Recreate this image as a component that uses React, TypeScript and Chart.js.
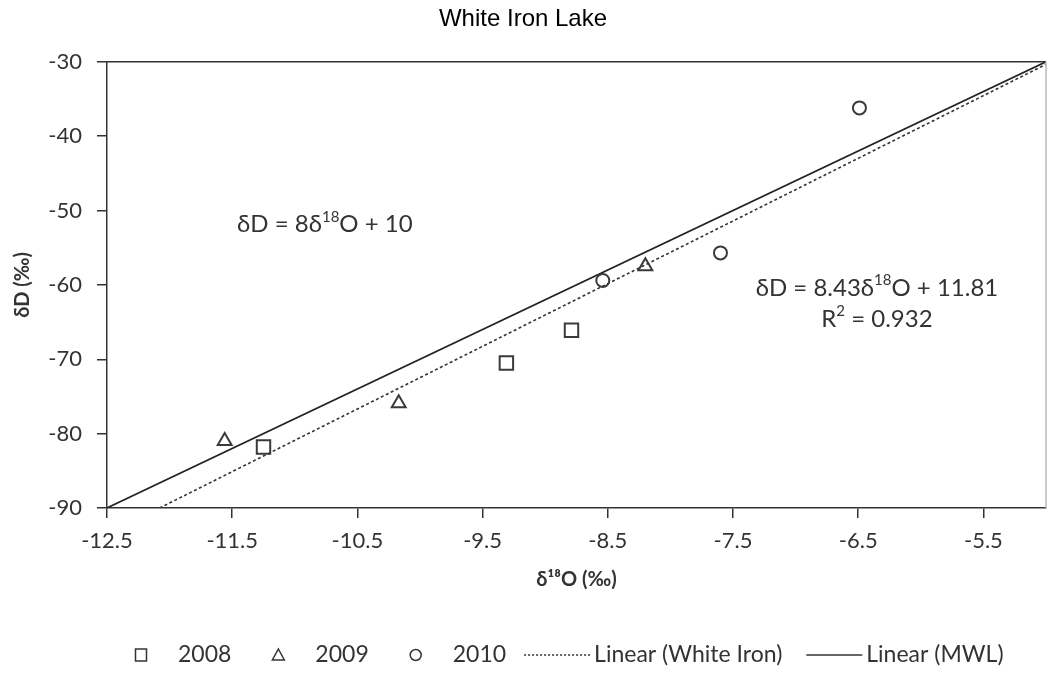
import React, { useEffect, useRef } from 'react';
import { Chart, registerables } from 'chart.js';

Chart.register(...registerables);

// ---- data ----
const chartTitle = 'White Iron Lake';
const xTickValues = [-12.5, -11.5, -10.5, -9.5, -8.5, -7.5, -6.5, -5.5];
const xMin = -12.5;
const xMax = -5;
const yMin = -90;
const yMax = -30;
const yStep = 10;

const x2008 = [-11.25, -9.31, -8.79];
const y2008 = [-81.8, -70.5, -66.1];
const x2009 = [-11.56, -10.17, -8.2];
const y2009 = [-81.0, -75.9, -57.5];
const x2010 = [-8.54, -7.6, -6.49];
const y2010 = [-59.4, -55.7, -36.2];

const mwlX = [-12.5, -5];
const mwlY = [-90, -30];
const wiX = [-12.08, -5];
const wiY = [-90, -30.34];

const seriesNames = ['2008', '2009', '2010', 'Linear (White Iron)', 'Linear (MWL)'];
const eqMwl = ['δD = 8δ', '18', 'O + 10'];
const eqWi = ['δD = 8.43δ', '18', 'O + 11.81'];
const eqR2 = ['R', '2', ' = 0.932'];
const eqMwlPos = [-10.76, -51.9];
const eqWiPos = [-6.35, -60.4];

const FONT = 'Lato';
const TXT = '#333333';

const toPts = (xs: number[], ys: number[]) => xs.map((x, i) => ({ x, y: ys[i] }));

function drawRich(ctx: CanvasRenderingContext2D, parts: string[], cx: number, cy: number) {
  const main = `24px ${FONT}`;
  const sup = `15px ${FONT}`;
  const fonts = parts.map((_, i) => (i % 2 === 1 ? sup : main));
  let total = 0;
  const widths = parts.map((p, i) => {
    ctx.font = fonts[i];
    const w = ctx.measureText(p).width;
    total += w;
    return w;
  });
  let x = cx - total / 2;
  ctx.textAlign = 'left';
  ctx.textBaseline = 'middle';
  parts.forEach((p, i) => {
    ctx.font = fonts[i];
    ctx.fillText(p, x, i % 2 === 1 ? cy - 8 : cy);
    x += widths[i];
  });
}

const decorPlugin = {
  id: 'decor',
  afterDraw(chart: any) {
    const { ctx, chartArea: a, scales } = chart;
    ctx.save();
    // top border
    ctx.strokeStyle = '#333';
    ctx.lineWidth = 1.5;
    ctx.beginPath();
    ctx.moveTo(a.left, a.top);
    ctx.lineTo(a.right, a.top);
    ctx.stroke();
    // right border
    ctx.strokeStyle = '#b8b8b8';
    ctx.beginPath();
    ctx.moveTo(a.right, a.top);
    ctx.lineTo(a.right, a.bottom);
    ctx.stroke();

    // equations
    ctx.fillStyle = '#333';
    const xs = scales.x;
    const ys = scales.y;
    drawRich(ctx, eqMwl, xs.getPixelForValue(eqMwlPos[0]), ys.getPixelForValue(eqMwlPos[1]));
    const ex = xs.getPixelForValue(eqWiPos[0]);
    const ey = ys.getPixelForValue(eqWiPos[1]);
    drawRich(ctx, eqWi, ex, ey);
    drawRich(ctx, eqR2, ex, ey + 31);

    // legend
    const ly = 655;
    let x = 141;
    ctx.font = `23px ${FONT}`;
    ctx.textBaseline = 'middle';
    ctx.textAlign = 'left';
    ctx.strokeStyle = '#333';
    ctx.lineWidth = 1.5;
    for (let i = 0; i < 3; i++) {
      ctx.beginPath();
      if (i === 0) {
        ctx.rect(x - 5.5, ly - 6, 11, 12);
      } else if (i === 1) {
        ctx.moveTo(x, ly - 6);
        ctx.lineTo(x + 6, ly + 5);
        ctx.lineTo(x - 6, ly + 5);
        ctx.closePath();
      } else {
        ctx.arc(x, ly, 5.5, 0, Math.PI * 2);
      }
      ctx.stroke();
      ctx.fillStyle = TXT;
      const tx = x + 37;
      ctx.fillText(seriesNames[i], tx, ly);
      const tw = ctx.measureText(seriesNames[i]).width;
      x = tx + tw + (i < 2 ? 47 : 18);
    }
    const lineLens = [66, 56];
    for (let i = 3; i < 5; i++) {
      ctx.beginPath();
      ctx.setLineDash(i === 3 ? [2, 2] : []);
      ctx.strokeStyle = '#333';
      ctx.lineWidth = 1.5;
      ctx.moveTo(x, ly);
      ctx.lineTo(x + lineLens[i - 3], ly);
      ctx.stroke();
      ctx.setLineDash([]);
      const tx = x + lineLens[i - 3] + 4;
      ctx.fillStyle = TXT;
      ctx.fillText(seriesNames[i], tx, ly);
      const tw = ctx.measureText(seriesNames[i]).width;
      x = tx + tw + 24;
    }
    ctx.restore();
  },
};

export default function App() {
  const ref = useRef<HTMLCanvasElement | null>(null);

  useEffect(() => {
    document.body.style.margin = '0';
    const canvas = ref.current;
    if (!canvas) return;
    const pointStyleBase = {
      showLine: false,
      borderColor: '#3a3a3a',
      backgroundColor: 'rgba(255,255,255,0)',
      borderWidth: 2,
    };
    const chart = new Chart(canvas, {
      type: 'scatter',
      data: {
        datasets: [
          {
            label: seriesNames[3],
            data: toPts(wiX, wiY),
            showLine: true,
            borderColor: '#333',
            borderWidth: 1.6,
            borderDash: [3, 2.5],
            pointRadius: 0,
            order: 5,
          },
          {
            label: seriesNames[4],
            data: toPts(mwlX, mwlY),
            showLine: true,
            borderColor: '#222',
            borderWidth: 1.6,
            pointRadius: 0,
            order: 4,
          },
          {
            ...pointStyleBase,
            label: seriesNames[0],
            data: toPts(x2008, y2008),
            pointStyle: 'rect',
            pointRadius: 9.5,
            order: 1,
          },
          {
            ...pointStyleBase,
            label: seriesNames[1],
            data: toPts(x2009, y2009),
            pointStyle: 'triangle',
            pointRadius: 8,
            order: 2,
          },
          {
            ...pointStyleBase,
            label: seriesNames[2],
            data: toPts(x2010, y2010),
            pointStyle: 'circle',
            pointRadius: 6.5,
            order: 3,
          },
        ] as any,
      },
      options: {
        animation: false,
        responsive: false,
        layout: { autoPadding: false, padding: { left: 0, right: 1, top: 0, bottom: 66 } },
        plugins: {
          legend: { display: false },
          tooltip: { enabled: false },
          title: {
            display: true,
            text: chartTitle,
            color: '#000',
            font: { family: 'Liberation Sans', size: 24, weight: 'normal' },
            padding: { top: 5, bottom: 28 },
          },
        },
        scales: {
          x: {
            type: 'linear',
            position: 'bottom',
            min: xMin,
            max: xMax,
            afterBuildTicks: (s: any) => {
              s.ticks = xTickValues.map((v) => ({ value: v }));
            },
            afterFit: (s: any) => {
              s.height = 100;
              s.paddingRight = 0;
              s.paddingLeft = 0;
            },
            ticks: {
              autoSkip: false,
              maxRotation: 0,
              padding: 10,
              color: TXT,
              font: { family: FONT, size: 22 },
              callback: (v: any) => String(v),
            },
            grid: { drawOnChartArea: false, drawTicks: true, tickLength: 10, color: '#333', lineWidth: 1.5 },
            border: { color: '#333', width: 1.5 },
            title: {
              display: true,
              text: 'δ¹⁸O (‰)',
              color: TXT,
              font: { family: FONT, size: 20, weight: 'bold' },
              padding: { top: 0, bottom: 16 },
            },
          },
          y: {
            type: 'linear',
            min: yMin,
            max: yMax,
            afterFit: (s: any) => {
              s.width = 107;
            },
            ticks: {
              stepSize: yStep,
              padding: 15,
              color: TXT,
              font: { family: FONT, size: 22 },
              callback: (v: any) => String(v),
            },
            grid: { drawOnChartArea: false, drawTicks: true, tickLength: 10, color: '#333', lineWidth: 1.5 },
            border: { color: '#333', width: 1.5 },
            title: {
              display: true,
              text: 'δD (‰)',
              color: TXT,
              font: { family: FONT, size: 20, weight: 'bold' },
              padding: { top: 11, bottom: 0 },
            },
          },
        },
      } as any,
      plugins: [decorPlugin],
    });
    return () => chart.destroy();
  }, []);

  return <canvas ref={ref} width={1047} height={674} style={{ display: 'block' }} />;
}
